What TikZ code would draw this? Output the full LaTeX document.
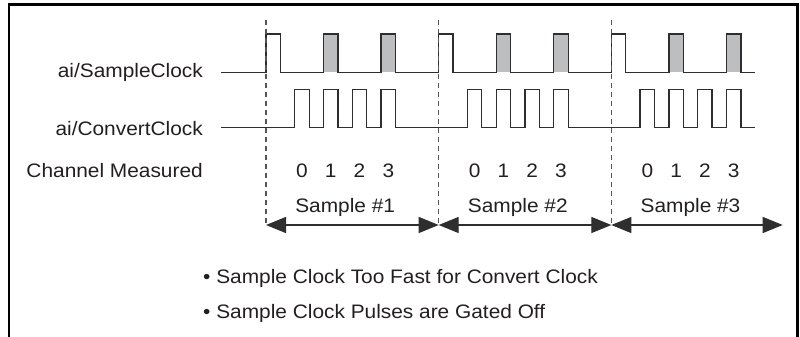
\documentclass[tikz,border=0pt]{standalone}
\usepackage{fontspec}
\setmainfont{Liberation Sans}[FakeStretch=1.07]
\usetikzlibrary{arrows.meta}
\definecolor{sigc}{HTML}{2E2E2E}
\definecolor{greyc}{HTML}{BCBEC0}
\definecolor{dashc}{HTML}{555555}
\definecolor{txtc}{HTML}{231F20}
\begin{document}
\begin{tikzpicture}[x=1pt,y=-1pt,
  sig/.style={line width=1.3pt, draw=sigc, line join=miter},
  divline/.style={line width=1.2pt, draw=dashc, dash pattern=on 5pt off 4pt},
  dimarrow/.style={line width=1.3pt, draw=sigc, {Triangle[length=20pt,width=16pt]}-{Triangle[length=20pt,width=16pt]}},
  frameline/.style={line width=2.5pt, draw=black},
  lbl/.style={inner sep=0pt, text=txtc, font=\fontsize{19.5}{23}\selectfont}]
\useasboundingbox (0,0) rectangle (800,337);
\draw[frameline] (9,340) -- (9,4.3) -- (797.5,4.3) -- (797.5,340);
% grey gated pulses
\foreach \k in {0,1,2}
  \foreach \o in {4,8}
    \fill[greyc] ({266+\k*172.67+\o*14.39},34) rectangle ++(14.39,38.3);
% sample clock
\draw[sig] (221,72.3)
  foreach \k in {0,1,2} {
    foreach \o in {0,4,8} {
      -- ({266+\k*172.67+\o*14.39},72.3) -- ++(0,-38.3) -- ++(14.39,0) -- ++(0,38.3)
    }
  } -- (755,72.3);
% convert clock
\draw[sig] (221,127.7)
  foreach \k in {0,1,2} {
    foreach \o in {2,4,6,8} {
      -- ({266+\k*172.67+\o*14.39},127.7) -- ++(0,-38.4) -- ++(14.39,0) -- ++(0,38.4)
    }
  } -- (755,127.7);
% dividers
\foreach \k in {0,1,2}
  \draw[divline] ({266+\k*172.67},20) -- ({266+\k*172.67},226);
% arrow end points
\coordinate (d0) at (266,225);
\coordinate (d1) at (438.67,225);
\coordinate (d2) at (611.33,225);
\coordinate (d3) at (782.7,225);
\draw[dimarrow] (d0) -- (d1);
\draw[dimarrow] (d1) -- (d2);
\draw[dimarrow] (d2) -- (d3);
% labels
\node[lbl, anchor=base east] (lsc) at (203,77.5) {ai/SampleClock};
\node[lbl, anchor=base east] (lcc) at (203,135) {ai/ConvertClock};
\node[lbl, anchor=base east] (lch) at (203,177) {Channel Measured};
\foreach \k in {0,1,2} {
  \foreach \c [count=\i from 0] in {2.5,4.5,6.5,8.5}
    \node[lbl, anchor=base] (ch\k\i) at ({266+\k*172.67+\c*14.39},177) {\i};
}
\node[lbl, anchor=base] (s1) at ({266+5.5*14.39},212.7) {Sample \#1};
\node[lbl, anchor=base] (s2) at ({266+172.67+5.5*14.39},212.7) {Sample \#2};
\node[lbl, anchor=base] (s3) at ({266+2*172.67+5.5*14.39},212.7) {Sample \#3};
\node[lbl, anchor=base west] (b1) at (203,283.3) {• Sample Clock Too Fast for Convert Clock};
\node[lbl, anchor=base west] (b2) at (203,318.3) {• Sample Clock Pulses are Gated Off};
\end{tikzpicture}
\end{document}
